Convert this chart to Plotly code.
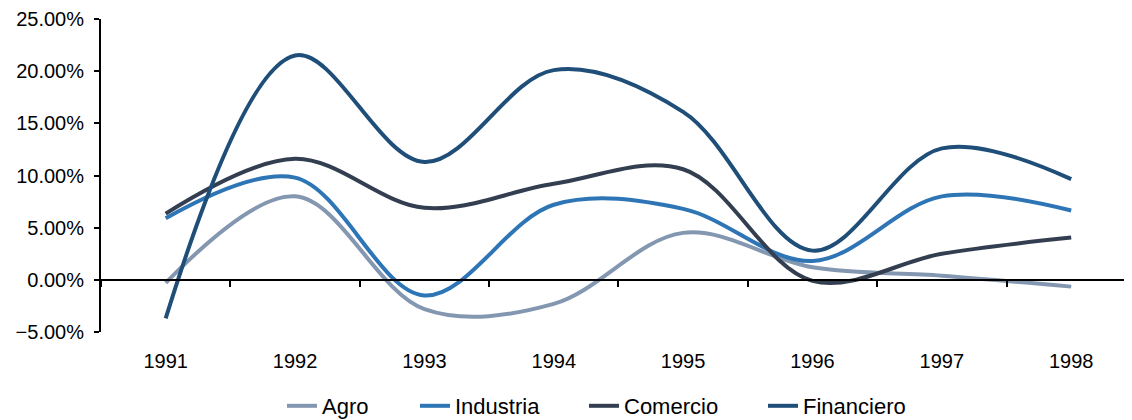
import plotly.graph_objects as go

years = ["1991", "1992", "1993", "1994", "1995", "1996", "1997", "1998"]
agro = [-0.3, 8.0, -2.8, -2.3, 4.5, 1.2, 0.4, -0.65]
industria = [5.9, 9.8, -1.5, 7.2, 6.8, 1.8, 8.0, 6.65]
comercio = [6.35, 11.6, 6.9, 9.2, 10.6, -0.1, 2.5, 4.05]
financiero = [-3.7, 21.5, 11.3, 20.1, 16.1, 2.8, 12.6, 9.65]

series = [
    ("Agro", agro, "#8497B0"),
    ("Industria", industria, "#2E75B6"),
    ("Comercio", comercio, "#333F50"),
    ("Financiero", financiero, "#1F4E79"),
]

FONT = "Liberation Sans, Arial, sans-serif"

# page has an 8px body margin; figure sized so the plot area lands where the reference has it
OFF = 8
W, H = 1124, 412
ML, MT, MB = 93, 11, 88

# left edge (page px) of the text of each legend entry in the reference
legend_text_px = [322, 455, 624, 803]
legend_text_py = 406

fig = go.Figure()
for i, (name, vals, color) in enumerate(series):
    lg = "legend" if i == 0 else f"legend{i+1}"
    fig.add_trace(go.Scatter(
        x=years, y=vals, name=name, mode="lines", legend=lg,
        line=dict(color=color, width=4, shape="spline", smoothing=1.0),
        hoverinfo="x+y+name",
    ))

legends = {}
for i, tx in enumerate(legend_text_px):
    key = "legend" if i == 0 else f"legend{i+1}"
    left_px = tx - 40
    legends[key] = dict(
        orientation="h",
        xref="container", yref="container",
        x=(left_px - OFF) / W, xanchor="left",
        y=1 - (legend_text_py - OFF) / H, yanchor="middle",
        font=dict(family=FONT, size=22, color="#000000"),
        bgcolor="rgba(0,0,0,0)", borderwidth=0,
    )

fig.update_layout(
    width=W, height=H, autosize=False,
    margin=dict(l=ML, r=0, t=MT, b=MB, pad=0, autoexpand=False),
    paper_bgcolor="white", plot_bgcolor="white",
    font=dict(family=FONT, size=20, color="#000000"),
    showlegend=True,
    xaxis=dict(
        type="category", range=[-0.5, 7.47],
        anchor="free", position=5/30,
        showline=True, linecolor="black", linewidth=2,
        ticks="outside", tickson="boundaries", ticklen=6, tickwidth=2, tickcolor="black",
        showgrid=False, zeroline=False,
        ticklabelstandoff=63,
        tickfont=dict(family=FONT, size=20, color="#000000"),
        automargin=False,
    ),
    yaxis=dict(
        range=[-5, 25], dtick=5, tick0=0,
        tickformat=".2f", ticksuffix="%",
        showline=True, linecolor="black", linewidth=2,
        ticks="outside", ticklen=5, tickwidth=2, tickcolor="black",
        showgrid=False, zeroline=False,
        ticklabelstandoff=6,
        tickfont=dict(family=FONT, size=20, color="#000000"),
        automargin=False,
    ),
    **legends,
)

fig.write_html("out.html")
